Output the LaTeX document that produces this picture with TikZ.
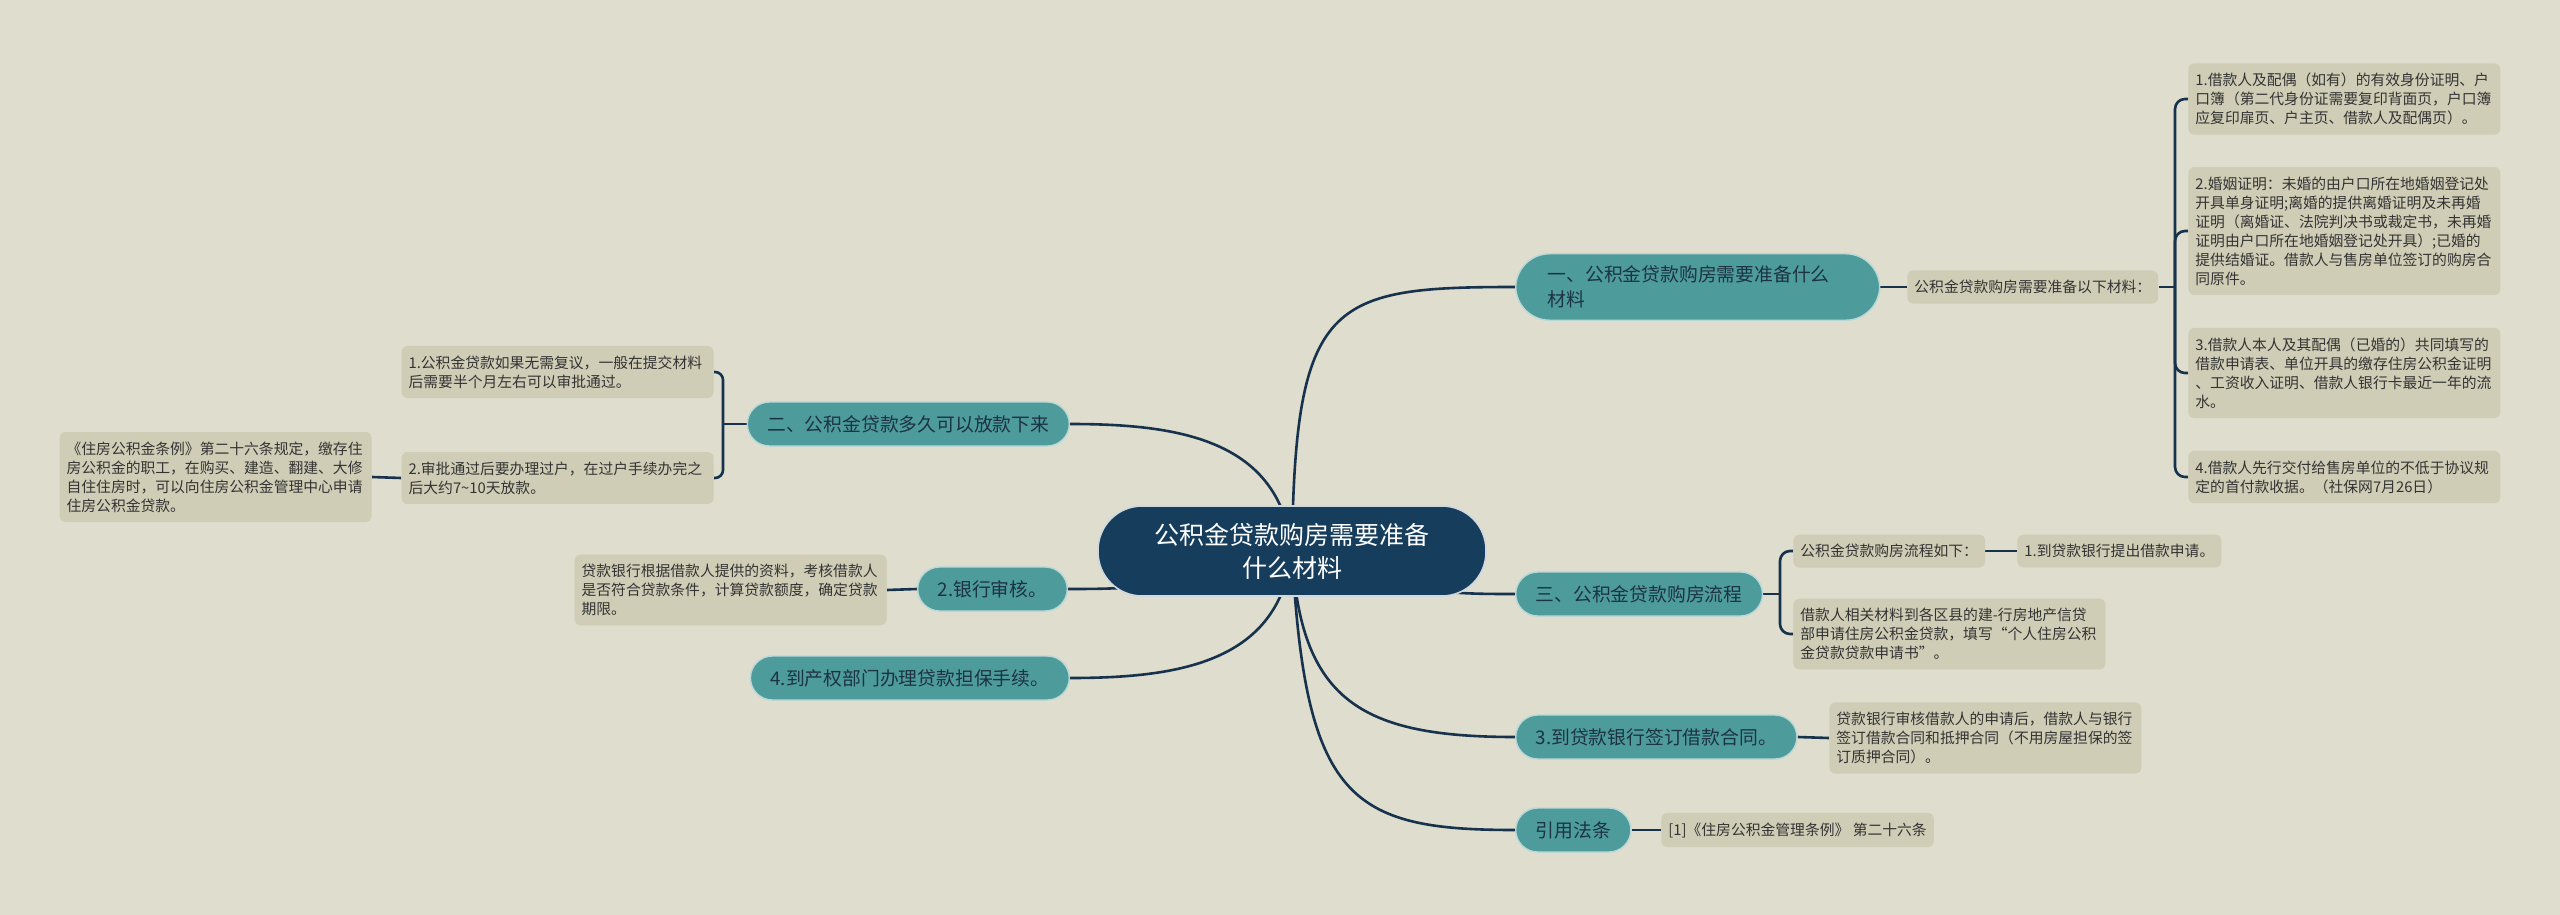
\documentclass[tikz,border=0pt]{standalone}
\usepackage{fontspec}
\setmainfont{Noto Sans CJK SC}
\setsansfont{Noto Sans CJK SC}
\definecolor{mapbg}{HTML}{DFDDCD}
\definecolor{leafbg}{HTML}{CFCDB6}
\definecolor{leaftext}{HTML}{333333}
\definecolor{mapteal}{HTML}{4E9B9B}
\definecolor{tealtext}{HTML}{1C3342}
\definecolor{rootblue}{HTML}{173D5D}
\definecolor{linkblue}{HTML}{17324C}
\pgfdeclarelayer{back}
\pgfsetlayers{back,main}

\begin{document}
\begin{tikzpicture}[
    x=0.5pt, y=-0.5pt,
    every node/.style={font=\sffamily},
    topic/.style={fill=rootblue, draw=white!80!rootblue, line width=0.8pt, text=white, rounded corners=22pt,
                  minimum width=194pt, minimum height=45pt, align=center, font=\sffamily\fontsize{12.5}{16.5}\selectfont},
    branch/.style={fill=mapteal, draw=white!60!mapteal, line width=0.7pt, text=tealtext, rounded corners=11pt,
                   minimum height=22pt, inner xsep=10pt, inner ysep=6pt, font=\sffamily\fontsize{9.4}{12.5}\selectfont},
    leaf/.style={fill=leafbg, text=leaftext, rounded corners=3pt, inner xsep=3.5pt, inner ysep=4.8pt,
                 font=\sffamily\fontsize{7.4}{9.5}\selectfont},
    note/.style={leaf, text width=149pt, align=left},
    link/.style={draw=linkblue, line width=1.3pt},
]

\useasboundingbox (0,0) rectangle (2560,915);

% Background
\begin{pgfonlayer}{back}
\fill[mapbg] (0,0) rectangle (2560,915);
\end{pgfonlayer}

% === ROOT ===
\node[topic] (root) at (1292,551) {公积金贷款购房需要准备\\什么材料};

% === RIGHT: materials ===
\node[branch, text width=150pt, align=left, inner xsep=16pt, rounded corners=17pt, anchor=west] (b1) at (1515,287)
      {一、公积金贷款购房需要准备什么\\材料};
\node[leaf, anchor=west] (m1) at (1907,287) {公积金贷款购房需要准备以下材料：};
\node[note, anchor=west] (m1a) at (2188,99)
      {1.借款人及配偶（如有）的有效身份证明、户\\口簿（第二代身份证需要复印背面页，户口簿\\应复印扉页、户主页、借款人及配偶页）。};
\node[note, anchor=west] (m1b) at (2188,231)
      {2.婚姻证明：未婚的由户口所在地婚姻登记处\\开具单身证明;离婚的提供离婚证明及未再婚\\证明（离婚证、法院判决书或裁定书，未再婚\\证明由户口所在地婚姻登记处开具）;已婚的\\提供结婚证。借款人与售房单位签订的购房合\\同原件。};
\node[note, anchor=west] (m1c) at (2188,373)
      {3.借款人本人及其配偶（已婚的）共同填写的\\借款申请表、单位开具的缴存住房公积金证明\\、工资收入证明、借款人银行卡最近一年的流\\水。};
\node[note, anchor=west] (m1d) at (2188,477)
      {4.借款人先行交付给售房单位的不低于协议规\\定的首付款收据。（社保网7月26日）};

% === RIGHT: process ===
\node[branch, anchor=west] (b3) at (1515,594) {三、公积金贷款购房流程};
\node[leaf, anchor=west] (m3) at (1793,551) {公积金贷款购房流程如下：};
\node[leaf, anchor=west] (m3a) at (2017,551) {1.到贷款银行提出借款申请。};
\node[note, anchor=west] (m3b) at (1793,634)
      {借款人相关材料到各区县的建-行房地产信贷\\部申请住房公积金贷款，填写“个人住房公积\\金贷款贷款申请书”。};

\node[branch, anchor=west] (b5) at (1515,737) {3.到贷款银行签订借款合同。};
\node[note, anchor=west] (m5) at (1829,738)
      {贷款银行审核借款人的申请后，借款人与银行\\签订借款合同和抵押合同（不用房屋担保的签\\订质押合同）。};

\node[branch, anchor=west] (b6) at (1515,830) {引用法条};
\node[leaf, anchor=west] (m6) at (1661,830) {[1]《住房公积金管理条例》 第二十六条};

% === LEFT ===
\node[branch, anchor=east] (b2) at (1070,424) {二、公积金贷款多久可以放款下来};
\node[note, anchor=east] (m2a) at (714,372)
      {1.公积金贷款如果无需复议，一般在提交材料\\后需要半个月左右可以审批通过。};
\node[note, anchor=east] (m2b) at (714,478)
      {2.审批通过后要办理过户，在过户手续办完之\\后大约7\textasciitilde10天放款。};
\node[note, anchor=east] (m2c) at (372,477)
      {《住房公积金条例》第二十六条规定，缴存住\\房公积金的职工，在购买、建造、翻建、大修\\自住住房时，可以向住房公积金管理中心申请\\住房公积金贷款。};

\node[branch, anchor=east] (b4) at (1068,589) {2.银行审核。};
\node[note, anchor=east] (m4) at (887,590)
      {贷款银行根据借款人提供的资料，考核借款人\\是否符合贷款条件，计算贷款额度，确定贷款\\期限。};

\node[branch, anchor=east] (b7) at (1070,678) {4.到产权部门办理贷款担保手续。};

% === Connectors ===
\coordinate (k1) at (2175,287);
\coordinate (k2) at (723,424);
\coordinate (k3) at (1780,594);

\begin{pgfonlayer}{back}
\draw[link] (root.center) .. controls (1295,300) and (1330,287) .. (b1.west);
\draw[link] (root.center) .. controls (1280,440) and (1180,424) .. (b2.east);
\draw[link] (root.center) .. controls (1400,594) and (1450,594) .. (b3.west);
\draw[link] (root.center) .. controls (1200,589) and (1120,589) .. (b4.east);
\draw[link] (root.center) .. controls (1300,700) and (1360,737) .. (b5.west);
\draw[link] (root.center) .. controls (1305,800) and (1350,830) .. (b6.west);
\draw[link] (root.center) .. controls (1280,662) and (1180,678) .. (b7.east);

\draw[link] (b1.east) -- (m1.west);
\draw[link] (m1.east) -- (k1);
\foreach \n in {m1a,m1b,m1c,m1d}
    \draw[link, rounded corners=5pt] (k1) |- (\n.west);

\draw[link] (b3.east) -- (k3);
\foreach \n in {m3,m3b}
    \draw[link, rounded corners=5pt] (k3) |- (\n.west);
\draw[link] (m3.east) -- (m3a.west);

\draw[link] (b5.east) -- (m5.west);
\draw[link] (b6.east) -- (m6.west);

\draw[link] (b2.west) -- (k2);
\foreach \n in {m2a,m2b}
    \draw[link, rounded corners=4pt] (k2) |- (\n.east);
\draw[link] (m2b.west) -- (m2c.east);
\draw[link] (b4.west) -- (m4.east);
\end{pgfonlayer}

\end{tikzpicture}
\end{document}
